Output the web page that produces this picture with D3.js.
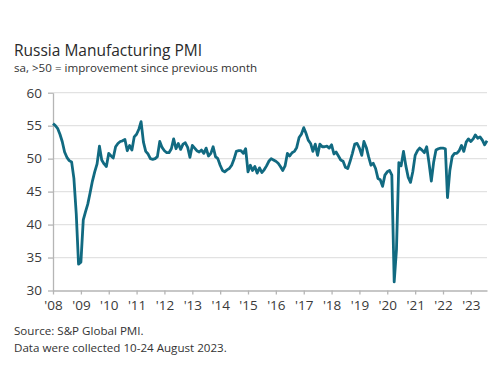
<!DOCTYPE html>
<html>
<head>
<meta charset="utf-8">
<script src="https://cdn.jsdelivr.net/npm/d3@7"></script>
<style>
  body { margin: 0; background: #fff; }
  svg { font-family: "Open Sans", "Liberation Sans", sans-serif; }
</style>
</head>
<body>
<script>
// monthly PMI readings, Jan 2008 .. Aug 2023
var pmi2008 = [55.3, 55.0, 54.6, 53.7, 52.6, 51.0, 50.2, 49.7, 49.5, 47.0, 41.6, 34.0];
var pmi2009 = [34.3, 40.7, 41.9, 43.1, 44.8, 46.6, 48.0, 49.2, 51.9, 49.8, 49.2, 48.8];
var pmi2010 = [50.8, 50.4, 50.1, 51.8, 52.3, 52.6, 52.7, 52.9, 51.2, 52.0, 51.3, 53.3];
var pmi2011 = [53.7, 54.5, 55.6, 52.5, 51.1, 50.7, 50.0, 49.9, 50.0, 50.3, 52.6, 51.7];
var pmi2012 = [51.2, 50.9, 50.9, 51.5, 53.0, 51.5, 52.3, 51.4, 52.2, 52.4, 51.7, 50.2];
var pmi2013 = [52.0, 51.6, 51.2, 51.0, 51.3, 50.8, 51.6, 50.4, 50.8, 51.8, 50.3, 50.0];
var pmi2014 = [49.0, 48.2, 48.0, 48.3, 48.5, 49.0, 49.9, 51.1, 51.2, 51.2, 50.8, 51.5];
var pmi2015 = [48.0, 49.0, 48.2, 48.8, 47.8, 48.6, 47.9, 48.3, 48.9, 49.6, 50.0, 49.8];
var pmi2016 = [49.6, 49.3, 48.8, 48.2, 48.9, 50.8, 50.4, 50.9, 51.1, 51.7, 53.2, 53.7];
var pmi2017 = [54.7, 53.8, 52.8, 52.3, 51.1, 52.2, 50.5, 52.2, 51.8, 51.8, 51.9, 51.6];
var pmi2018 = [52.1, 50.7, 51.0, 50.4, 49.8, 49.6, 48.7, 48.5, 49.6, 50.8, 52.2, 52.3];
var pmi2019 = [51.6, 50.5, 52.6, 51.7, 50.3, 49.0, 49.3, 48.5, 47.0, 46.8, 45.8, 47.5];
var pmi2020 = [48.0, 48.2, 47.5, 31.3, 36.2, 49.4, 48.9, 51.1, 48.9, 47.2, 46.4, 48.0];
var pmi2021 = [50.5, 51.2, 51.6, 51.3, 50.9, 51.8, 49.4, 46.6, 49.5, 51.3, 51.5, 51.6];
var pmi2022 = [51.6, 51.5, 44.1, 48.2, 50.3, 50.8, 50.8, 51.2, 52.0, 51.1, 52.5, 53.0];
var pmi2023 = [52.6, 53.0, 53.6, 53.1, 53.3, 52.8, 52.1, 52.7];

var years = [2008, 2009, 2010, 2011, 2012, 2013, 2014, 2015, 2016, 2017, 2018, 2019, 2020, 2021, 2022, 2023];
var yTicks = [30, 35, 40, 45, 50, 55, 60];

var title = "Russia Manufacturing PMI";
var subtitle = "sa, >50 = improvement since previous month";
var notes = ["Source: S&P Global PMI.", "Data were collected 10-24 August 2023."];

var byYear = [pmi2008, pmi2009, pmi2010, pmi2011, pmi2012, pmi2013, pmi2014, pmi2015,
              pmi2016, pmi2017, pmi2018, pmi2019, pmi2020, pmi2021, pmi2022, pmi2023];

var data = [];
byYear.forEach(function(vals, i){
    vals.forEach(function(v, m){
        data.push({date: new Date(years[i], m, 1), value: v});
    });
});

var width = 500,
    height = 365;

var svg = d3.select("body")
    .append("svg")
    .attr("width", width)
    .attr("height", height);

var x = d3.scaleTime()
    .domain([new Date(2008, 0, 1), new Date(2023, 7, 1)])
    .range([53, 487]);

var y = d3.scaleLinear()
    .domain([30, 60])
    .range([290.5, 92.7]);

//gridlines
svg.append("g")
    .selectAll("line")
    .data(yTicks.slice(1))
    .enter()
    .append("line")
    .attr("x1", 53)
    .attr("x2", 487)
    .attr("y1", function(d){ return y(d); })
    .attr("y2", function(d){ return y(d); })
    .attr("stroke", "#e2e2e2")
    .attr("stroke-width", 1.2);

//y axis
var yAxis = svg.append("g")
    .attr("transform", "translate(53,0)")
    .call(d3.axisLeft(y).tickValues(yTicks).tickSize(5).tickSizeOuter(0).tickPadding(6));

//x axis
var xAxis = svg.append("g")
    .attr("transform", "translate(0," + y(30) + ")")
    .call(d3.axisBottom(x)
        .tickValues(years.map(function(yr){ return new Date(yr, 0, 1); }))
        .tickFormat(function(d){ return "'" + d3.timeFormat("%y")(d); })
        .tickSize(4).tickSizeOuter(0).tickPadding(6));

[yAxis, xAxis].forEach(function(ax){
    ax.select(".domain").attr("stroke", "#b5b5b5").attr("stroke-width", 1.3);
    ax.selectAll(".tick line").attr("stroke", "#b5b5b5").attr("stroke-width", 1.3);
    ax.selectAll(".tick text")
        .attr("fill", "#3a3a3a")
        .style("font-size", "13.5px")
        .style("font-family", "'Open Sans', sans-serif");
});

//line
var line = d3.line()
    .x(function(d){ return x(d.date); })
    .y(function(d){ return y(d.value); });

svg.append("path")
    .datum(data)
    .attr("fill", "none")
    .attr("stroke", "#116a81")
    .attr("stroke-width", 2.8)
    .attr("stroke-linejoin", "round")
    .attr("d", line);

//titles
svg.append("text")
    .attr("x", 14)
    .attr("y", 56)
    .attr("fill", "#2a2a2a")
    .style("font-size", "15.5px")
    .style("font-weight", 500)
    .text(title);

svg.append("text")
    .attr("x", 14)
    .attr("y", 72)
    .attr("fill", "#333")
    .style("font-size", "11.6px")
    .style("font-weight", 500)
    .text(subtitle);

svg.selectAll(".note")
    .data(notes)
    .enter()
    .append("text")
    .attr("class", "note")
    .attr("x", 14)
    .attr("y", function(d, i){ return 335 + i * 16.5; })
    .attr("fill", "#333")
    .style("font-size", "11.6px")
    .style("font-weight", 500)
    .text(function(d){ return d; });
</script>
</body>
</html>
